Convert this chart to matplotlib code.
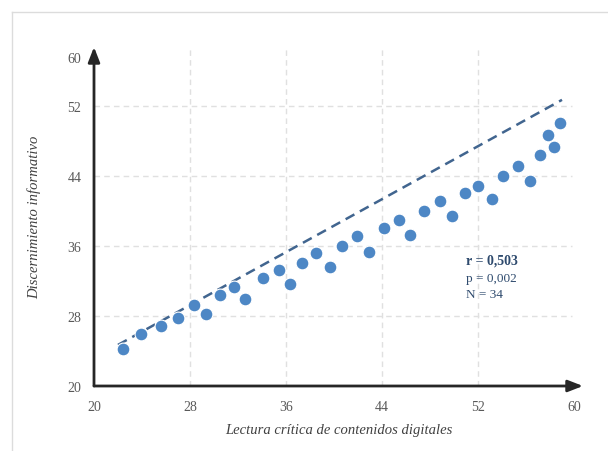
import matplotlib.pyplot as plt
from matplotlib.lines import Line2D

# Data
lectura = [22.4, 23.9, 25.6, 27.0, 28.3, 29.3, 30.5, 31.7, 32.6, 34.1, 35.4, 36.3,
           37.3, 38.5, 39.7, 40.7, 41.9, 42.9, 44.2, 45.4, 46.3, 47.5, 48.8, 49.8,
           50.9, 52.0, 53.2, 54.1, 55.3, 56.3, 57.2, 57.8, 58.3, 58.8]
discernimiento = [24.2, 25.9, 26.9, 27.8, 29.3, 28.2, 30.4, 31.3, 29.9, 32.3, 33.3, 31.7,
                  34.0, 35.2, 33.6, 36.0, 37.1, 35.3, 38.0, 39.0, 37.3, 40.0, 41.1, 39.4,
                  42.0, 42.9, 41.4, 44.0, 45.1, 43.4, 46.4, 48.7, 47.3, 50.1]
trend_x = [22.0, 59.0]
trend_y = [24.7, 52.7]
x_ticks = [20, 28, 36, 44, 52, 60]
y_ticks = [20, 28, 36, 44, 52]
stats = ["r = 0,503", "p = 0,002", "N = 34"]

plt.rcParams['font.family'] = ['Liberation Serif', 'DejaVu Serif']

fig = plt.figure(figsize=(6.08, 4.52), dpi=100)
ax = fig.add_axes([94 / 608, 1 - 387 / 452, (583 - 94) / 608, (387 - 48) / 452])
ax.set_xlim(20, 60.75)
ax.set_ylim(20, 58.74)

# light frame around the figure
fig.add_artist(Line2D([12 / 608, 1], [1 - 13 / 452] * 2, color='#dcdcdc', lw=1))
fig.add_artist(Line2D([12 / 608] * 2, [0, 1 - 13 / 452], color='#dcdcdc', lw=1))

for s in ax.spines.values():
    s.set_visible(False)

# axes drawn as arrows
for end in [(1, 0), (0, 1)]:
    ax.annotate('', xy=end, xytext=(0, 0), xycoords='axes fraction',
                arrowprops=dict(arrowstyle='-|>,head_length=0.9,head_width=0.35',
                                color='#262626', lw=2, shrinkA=0, shrinkB=0))

ax.set_xticks(x_ticks)
ax.set_yticks(y_ticks)
ax.tick_params(length=0, labelsize=10, labelcolor='#595959')
ax.tick_params(axis='x', pad=10)
ax.tick_params(axis='y', pad=9)
ax.text(-0.026, 57.4, '60', transform=ax.get_yaxis_transform(), ha='right', va='center',
        fontsize=10, color='#595959')

for v in x_ticks[1:-1]:
    ax.axvline(v, color='#e0e0e0', lw=1, ls=(0, (4, 3)), zorder=0)
for v in y_ticks[1:]:
    ax.plot([20, 59.8], [v, v], color='#e0e0e0', lw=1, ls=(0, (4, 3)), zorder=0)

ax.plot(trend_x, trend_y, color='#41658f', lw=1.8, ls=(0, (4, 2.5)), zorder=2)
ax.scatter(lectura, discernimiento, s=85, color='#4d87c5', edgecolor='white',
           linewidth=0.8, zorder=3)

ax.text(51.0, 34.43, stats[0], fontsize=10, fontweight='bold', color='#2f4b6e', va='center')
ax.text(51.0, 32.34, stats[1], fontsize=9.5, color='#2f4b6e', va='center')
ax.text(51.0, 30.5, stats[2], fontsize=9.5, color='#2f4b6e', va='center')

ax.set_xlabel('Lectura crítica de contenidos digitales', fontsize=10.5, style='italic',
              color='#404040', labelpad=7)
ax.set_ylabel('Discernimiento informativo', fontsize=10.5, style='italic',
              color='#404040', labelpad=19)

fig.savefig('out.png', dpi=100)
